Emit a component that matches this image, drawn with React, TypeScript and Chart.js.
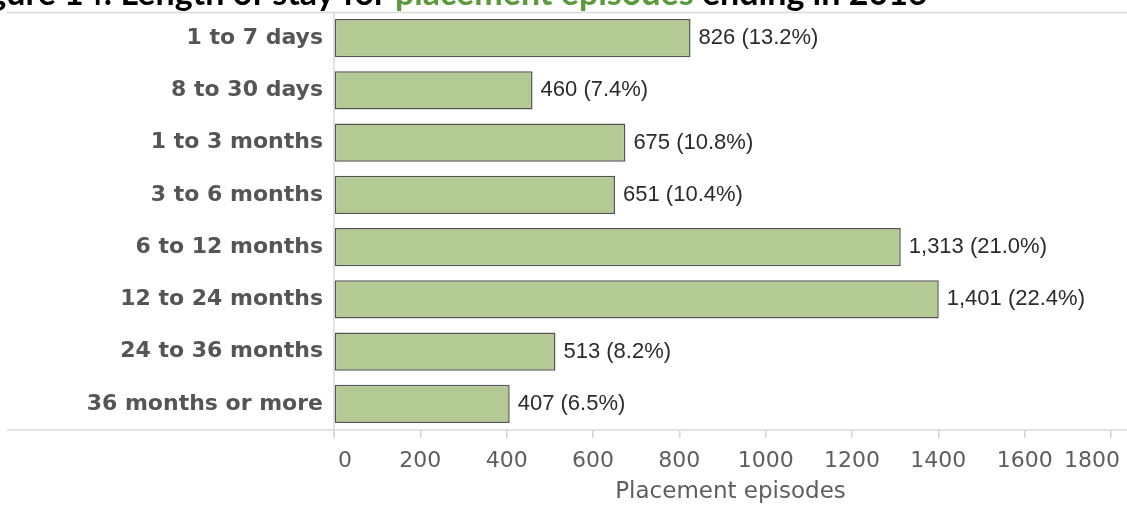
import React, { useEffect, useRef } from "react";
import { Chart, registerables } from "chart.js";

Chart.register(...registerables);

const categories = [
  "1 to 7 days",
  "8 to 30 days",
  "1 to 3 months",
  "3 to 6 months",
  "6 to 12 months",
  "12 to 24 months",
  "24 to 36 months",
  "36 months or more",
];
const episodes = [826, 460, 675, 651, 1313, 1401, 513, 407];
const percents = [13.2, 7.4, 10.8, 10.4, 21.0, 22.4, 8.2, 6.5];
const xMin = 0;
const xMax = 1800;
const xStep = 200;
const axisTitle = "Placement episodes";
const titleBefore = "Figure 14: Length of stay for ";
const titleHighlight = "placement episodes";
const titleAfter = " ending in 2016";

const W = 1127;
const H = 505;

const overlay = {
  id: "overlay",
  beforeDatasetsDraw(chart: any) {
    const ctx = chart.ctx;
    const { left, top, bottom } = chart.chartArea;
    ctx.save();
    ctx.strokeStyle = "#d9d9d9";
    ctx.lineWidth = 1.5;
    ctx.beginPath();
    ctx.moveTo(7, top + 0.5);
    ctx.lineTo(W, top + 0.5);
    ctx.moveTo(7, bottom);
    ctx.lineTo(W, bottom);
    ctx.moveTo(left, top);
    ctx.lineTo(left, bottom + 8);
    ctx.stroke();
    ctx.restore();
  },
  afterDraw(chart: any) {
    const ctx = chart.ctx;
    const xs = chart.scales.x;
    const { left, right } = chart.chartArea;
    ctx.save();
    // x tick labels
    ctx.font = "22px 'DejaVu Sans'";
    ctx.fillStyle = "#5e5e5e";
    ctx.textBaseline = "alphabetic";
    const n = xs.ticks.length;
    xs.ticks.forEach((t: any, i: number) => {
      const px = xs.getPixelForValue(t.value);
      let x = px;
      ctx.textAlign = "center";
      if (i === 0) {
        ctx.textAlign = "left";
        x = px + 4;
      } else if (i === n - 1) {
        ctx.textAlign = "right";
        x = px + 9;
      }
      ctx.fillText(String(t.value), x, 467);
    });
    // axis title
    ctx.font = "23px 'DejaVu Sans'";
    ctx.textAlign = "center";
    ctx.fillText(axisTitle, (left + right) / 2 + 8, 498);
    // value labels
    ctx.font = "22px 'Liberation Sans', Arial, sans-serif";
    ctx.fillStyle = "#2b2b2b";
    ctx.textAlign = "left";
    const meta = chart.getDatasetMeta(0);
    meta.data.forEach((bar: any, i: number) => {
      const label = `${episodes[i].toLocaleString("en-US")} (${percents[i].toFixed(1)}%)`;
      ctx.fillText(label, bar.x + 8, bar.y + 6);
    });
    // title (cropped at top of the picture)
    ctx.font = "bold 34px Lato, 'Open Sans', sans-serif";
    ctx.textBaseline = "alphabetic";
    const wb = ctx.measureText(titleBefore).width;
    const wh = ctx.measureText(titleHighlight).width;
    const startX = 395 - wb;
    ctx.fillStyle = "#000";
    ctx.fillText(titleBefore, startX, 5);
    ctx.fillStyle = "#5a9a3a";
    ctx.fillText(titleHighlight, startX + wb, 5);
    ctx.fillStyle = "#000";
    ctx.fillText(titleAfter, startX + wb + wh, 5);
    ctx.restore();
  },
};

export default function App() {
  const ref = useRef<HTMLCanvasElement | null>(null);
  useEffect(() => {
    if (!ref.current) return;
    const chart = new Chart(ref.current, {
      type: "bar",
      data: {
        labels: categories,
        datasets: [
          {
            data: episodes,
            backgroundColor: "#b3ca94",
            borderColor: "#555555",
            borderWidth: 1.5,
            borderSkipped: false,
            barPercentage: 0.73,
            categoryPercentage: 1,
          },
        ],
      },
      options: {
        indexAxis: "y",
        responsive: false,
        animation: false,
        layout: { padding: { top: 12, right: 16, left: 0, bottom: 0 } },
        plugins: {
          legend: { display: false },
          tooltip: { enabled: false },
          title: { display: false },
        },
        scales: {
          x: {
            type: "linear",
            min: xMin,
            max: xMax,
            ticks: { stepSize: xStep, display: false },
            grid: {
              drawOnChartArea: false,
              drawTicks: true,
              tickLength: 8,
              color: "#d4d4d4",
              lineWidth: 1.5,
            },
            border: { display: false },
            afterFit(s: any) {
              s.height = 75;
              s.paddingLeft = 0;
              s.paddingRight = 0;
            },
          },
          y: {
            type: "category",
            grid: { display: false, drawTicks: false },
            border: { display: false },
            ticks: {
              font: { family: "'DejaVu Sans'", size: 22, weight: "bold" },
              color: "#555555",
              padding: 11,
            },
            afterFit(s: any) {
              s.width = 334;
              s.paddingTop = 0;
              s.paddingBottom = 0;
            },
          },
        },
      },
      plugins: [overlay],
    });
    return () => chart.destroy();
  }, []);
  return (
    <div style={{ position: "fixed", left: 0, top: 0, width: W, height: H, background: "#fff" }}>
      <canvas ref={ref} width={W} height={H} style={{ width: W, height: H, display: "block" }} />
    </div>
  );
}
